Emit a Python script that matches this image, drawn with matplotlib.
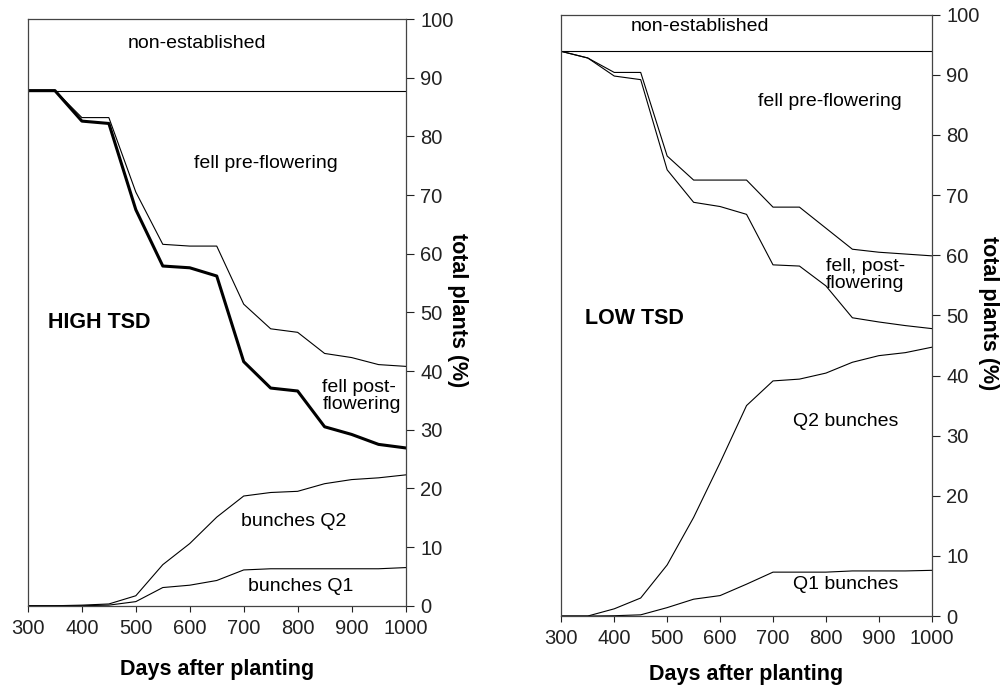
import matplotlib
matplotlib.use('Agg')
from matplotlib import pyplot as plt

plt.rcParams['font.family'] = ['Liberation Sans', 'DejaVu Sans']
plt.rcParams['font.size'] = 14

days = [300, 350, 400, 450, 500, 550, 600, 650, 700, 750, 800, 850, 900, 950, 1000]

# HIGH TSD
high_est = 87.8
high_pre = [87.8, 87.8, 83.2, 83.2, 70.5, 61.6, 61.3, 61.3, 51.4, 47.2, 46.6, 43.0, 42.3, 41.1, 40.8]
high_post = [87.8, 87.8, 82.6, 82.2, 67.5, 57.9, 57.6, 56.2, 41.6, 37.1, 36.6, 30.5, 29.2, 27.5, 26.9]
high_q2 = [0, 0, 0.1, 0.3, 1.7, 7.0, 10.6, 15.1, 18.7, 19.3, 19.5, 20.8, 21.5, 21.8, 22.3]
high_q1 = [0, 0, 0, 0.1, 0.7, 3.1, 3.5, 4.3, 6.1, 6.3, 6.3, 6.3, 6.3, 6.3, 6.5]

# LOW TSD
low_est = 93.9
low_pre = [93.9, 92.8, 90.4, 90.4, 76.5, 72.5, 72.5, 72.5, 68.0, 68.0, 64.5, 61.0, 60.5, 60.2, 59.9]
low_post = [93.9, 92.8, 89.8, 89.2, 74.2, 68.8, 68.1, 66.8, 58.4, 58.2, 54.9, 49.6, 48.9, 48.3, 47.8]
low_q2 = [0, 0, 1.2, 3.0, 8.5, 16.4, 25.5, 35.0, 39.1, 39.4, 40.4, 42.2, 43.3, 43.8, 44.7]
low_q1 = [0, 0, 0.05, 0.2, 1.4, 2.8, 3.4, 5.3, 7.3, 7.3, 7.3, 7.5, 7.5, 7.5, 7.6]

fig = plt.figure(figsize=(10.02, 6.87), dpi=100)
ax1 = fig.add_axes([0.0279, 0.1183, 0.3768, 0.854])
ax2 = fig.add_axes([0.5602, 0.1033, 0.3697, 0.8753])


def style(ax):
    ax.set_xlim(300, 1000)
    ax.set_ylim(0, 100)
    ax.set_xticks(range(300, 1001, 100))
    ax.set_yticks(range(0, 101, 10))
    ax.yaxis.tick_right()
    ax.tick_params(axis='y', which='both', left=False, right=True,
                   direction='out', length=5.5, width=0.8, pad=5,
                   colors='#222', labelsize=14.5)
    ax.tick_params(axis='x', direction='out', length=4.5, width=0.8, pad=5,
                   colors='#222', labelsize=14.5)
    for s in ax.spines.values():
        s.set_color('#444')
        s.set_linewidth(0.9)


for ax in (ax1, ax2):
    style(ax)

thin = dict(color='black', lw=0.8)

ax1.axhline(high_est, **thin)
ax1.plot(days, high_pre, **thin)
ax1.plot(days, high_post, color='black', lw=2.2)
ax1.plot(days, high_q2, **thin)
ax1.plot(days, high_q1, **thin)

ax1.text(613, 95.9, 'non-established', ha='center', va='center')
ax1.text(742, 75.4, 'fell pre-flowering', ha='center', va='center')
ax1.text(338, 48.3, 'HIGH TSD', ha='left', va='center', fontweight='bold', fontsize=15.5)
ax1.text(846, 35.7, 'fell post-\nflowering', ha='left', va='center', linespacing=1.0)
ax1.text(793, 14.4, 'bunches Q2', ha='center', va='center')
ax1.text(805, 3.2, 'bunches Q1', ha='center', va='center')

ax2.axhline(low_est, **thin)
ax2.plot(days, low_pre, **thin)
ax2.plot(days, low_post, **thin)
ax2.plot(days, low_q2, **thin)
ax2.plot(days, low_q1, **thin)

ax2.text(562, 98.1, 'non-established', ha='center', va='center')
ax2.text(807, 85.5, 'fell pre-flowering', ha='center', va='center')
ax2.text(800, 56.7, 'fell, post-\nflowering', ha='left', va='center', linespacing=1.0)
ax2.text(345, 49.4, 'LOW TSD', ha='left', va='center', fontweight='bold', fontsize=15.5)
ax2.text(838, 32.4, 'Q2 bunches', ha='center', va='center')
ax2.text(838, 5.2, 'Q1 bunches', ha='center', va='center')

for ax, xl, yl_x in ((ax1, -0.109, 1.139), (ax2, -0.098, 1.152)):
    ax.set_xlabel('Days after planting', fontweight='bold', va='center', fontsize=15.5)
    ax.xaxis.set_label_coords(0.5, xl)
    ax.yaxis.set_label_position('right')
    ax.set_ylabel('total plants (%)', fontweight='bold', fontsize=15.5)
    lab = ax.yaxis.label
    lab.set_rotation(-90)
    lab.set_rotation_mode('default')
    lab.set_va('center')
    lab.set_ha('center')
    ax.yaxis.set_label_coords(yl_x, 0.503)

fig.savefig('out.png', dpi=100)
